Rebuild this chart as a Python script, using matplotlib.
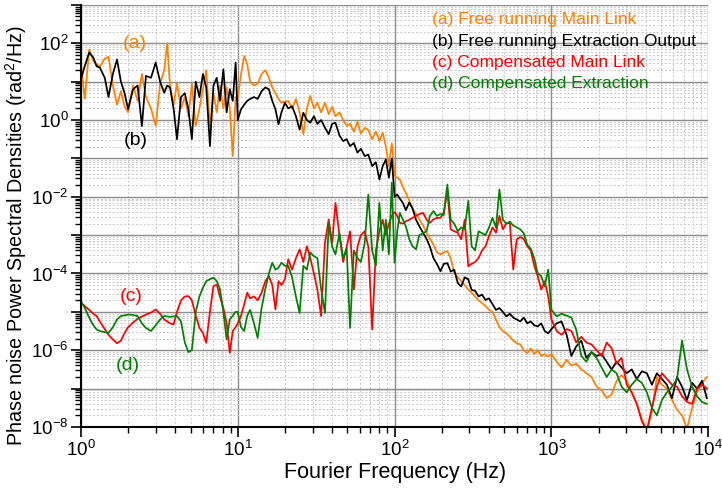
import numpy as np
import matplotlib
matplotlib.use("Agg")
import matplotlib.pyplot as plt
from matplotlib.ticker import LogLocator, FuncFormatter, NullFormatter

plt.rcParams['font.family'] = ['Liberation Sans', 'DejaVu Sans']
plt.rcParams['mathtext.fontset'] = 'custom'
plt.rcParams['mathtext.rm'] = 'Liberation Sans'
plt.rcParams['mathtext.it'] = 'Liberation Sans:italic'

# Fourier frequency grid (Hz)
freq = [1.0, 1.06, 1.13, 1.2, 1.26, 1.32, 1.42, 1.5, 1.6, 1.7, 1.8, 1.9, 2.0, 2.15, 2.3, 2.45, 2.6, 2.8,
        3.0, 3.2, 3.4, 3.55, 3.7, 3.9, 4.1, 4.35, 4.6, 4.85, 5.1, 5.4, 5.7, 6.0, 6.3, 6.65, 7.0, 7.35,
        7.7, 8.1, 8.5, 8.9, 9.3, 9.7,
        10.0, 10.5, 11.0, 11.5, 12.0, 12.7, 13.4, 14.2, 15.0, 15.8, 16.6, 17.4, 18.2, 19.0, 20.0, 21.0,
        22.2, 23.5, 24.8, 26.2, 27.6, 29.0, 30.6, 32.2, 34.0, 36.0, 38.0, 40.0, 42.0, 44.5, 47.0, 49.5,
        52.0, 55.0, 58.0, 61.0, 64.5, 68.0, 72.0, 76.0, 80.0, 84.0, 88.0, 92.0, 96.0,
        100, 104, 108, 113, 118, 124, 130, 137, 144, 152, 160, 168, 177, 186, 196, 206, 217, 228, 240,
        253, 266, 280, 295, 310, 326, 343, 361, 380, 400, 421, 443, 466, 490, 516, 543, 571, 601, 633,
        666, 701, 738, 777, 818, 861, 906, 954,
        1000, 1080, 1160, 1250, 1340, 1440, 1550, 1670, 1800, 1940, 2090, 2250, 2420, 2600, 2800, 3020,
        3250, 3500, 3770, 4060, 4370, 4700, 5060, 5450, 5870, 6320, 6800, 7320, 7880, 8480, 9130, 9800]

# log10 of PSD (rad^2/Hz)
a_free_main = [1.5, 0.55, 1.84, 1.55, 1.45, 1.4, 1.6, 1.65, 0.9, 0.4, 0.75, 0.35, 0.2, 0.9, 0.5, 1.2, 0.6, 0.3,
               -0.15, 0.95, 1.3, 2.0, 0.9, 0.4, 0.95, 0.3, 0.6, 0.1, 0.95, -0.15, 0.3, 0.8, 1.3, -0.15, 0.7, 0.2,
               0.9, 0.3, 0.85, 0.3, -0.94, 0.6,
               0.55, 1.2, 1.67, 1.45, 1.0, 0.9, 0.95, 1.2, 1.3, 1.1, 0.85, 0.7, 0.55, 0.45, 0.48, 0.5,
               0.3, 0.55, 0.2, -0.37, 0.3, 0.63, 0.3, 0.45, 0.2, 0.45, 0.15, 0.35, 0.1, 0.2, 0.0, -0.15,
               -0.1, -0.3, -0.05, -0.35, -0.2, -0.27, -0.5, -0.3, -0.55, -0.33, -0.7, -1.2, -0.6,
               -1.45, -1.5, -1.55, -1.75, -1.9, -2.1, -2.3, -2.45, -2.6, -2.75, -2.94, -3.1, -3.25, -3.45, -3.5,
               -3.45, -3.42, -3.6, -3.98, -4.1, -4.2, -4.3, -4.42, -4.5, -4.6, -4.7, -4.77, -4.85, -4.95, -5.0,
               -5.2, -5.4, -5.5, -5.56, -5.65, -5.75, -5.82, -5.85, -6.0, -6.08, -5.95, -6.1, -6.0, -6.15, -6.1,
               -6.17,
               -6.1, -6.3, -6.45, -6.25, -6.4, -6.35, -6.5, -6.6, -6.7, -6.95, -7.05, -7.25, -7.15, -6.8,
               -6.65, -6.8, -7.1, -7.4, -7.8, -8.1, -7.6, -6.7, -6.9, -7.0, -7.3, -7.55, -7.7, -8.05, -7.5,
               -7.1, -6.85, -6.7]

b_free_extraction = [1.06, 1.41, 1.76, 1.63, 1.4, 1.37, 1.1, 0.6, 1.2, 1.58, 1.0, 0.7, 0.28, 0.8, 0.9, -0.16,
                     1.15, 1.1, 1.5, 1.0, 0.71, 0.9, 0.85, 0.3, -0.5, 0.6, 0.7, 0.28, -0.5, 1.0, 0.6, 1.2, 0.85,
                     -0.68, 0.9, 1.1, 0.5, 1.32, 0.2, 0.8, 0.5, 1.5,
                     0.0, 0.28, 0.4, 0.5, 0.55, 0.6, 0.55, 0.75, 0.85, 0.8, 0.5, 0.28, -0.11, 0.2, 0.45, 0.3,
                     0.36, 0.1, -0.25, 0.19, 0.0, -0.07, 0.1, -0.1, 0.0, -0.2, -0.37, -0.1, -0.07, -0.4, -0.55,
                     -0.5, -0.68, -0.6, -0.85, -0.75, -0.94, -0.9, -1.2, -1.1, -1.55, -1.2, -1.03, -1.5, -1.0,
                     -2.0, -1.94, -2.05, -2.16, -2.35, -2.15, -2.3, -2.6, -2.77, -2.94, -3.1, -3.3, -3.6, -3.75,
                     -3.94, -3.75, -3.73, -3.95, -3.9, -4.25, -4.34, -4.1, -4.15, -4.43, -4.45, -4.6, -4.55,
                     -4.69, -4.65, -4.8, -4.95, -4.9, -5.0, -5.12, -5.05, -5.15, -5.2, -5.25, -5.15, -5.3, -5.25,
                     -5.35, -5.38, -5.3, -5.5, -5.56,
                     -5.45, -5.3, -5.25, -5.6, -6.15, -5.9, -5.75, -6.2, -6.05, -6.15, -6.1, -6.3, -6.5, -6.3,
                     -6.45, -6.6, -6.5, -6.75, -6.55, -6.6, -6.9, -6.6, -6.75, -6.9, -7.25, -6.7, -6.95, -7.3,
                     -6.85, -7.0, -6.8, -7.25]

c_comp_main = [-4.77, -4.85, -4.95, -5.05, -5.11, -5.25, -5.45, -5.6, -5.72, -5.82, -5.75, -5.55, -5.4, -5.28,
               -5.18, -5.12, -5.07, -5.02, -4.94, -5.05, -5.2, -5.25, -5.3, -5.33, -5.0, -4.7, -4.6, -4.59,
               -4.7, -5.1, -5.42, -5.55, -5.81, -5.0, -4.33, -4.29, -4.6, -4.9, -5.3, -6.07, -5.5, -5.4,
               -5.3, -5.1, -4.8, -4.5, -4.65, -4.6, -4.7, -4.5, -4.2, -4.07, -4.3, -4.94, -4.2, -4.3, -4.15,
               -3.63, -3.9, -3.6, -3.37, -3.7, -3.29, -3.6, -4.0, -4.42, -5.11, -3.2, -2.59, -3.2, -2.16,
               -3.0, -3.7, -3.3, -2.9, -4.42, -3.3, -3.0, -2.9, -3.3, -5.46, -3.4, -2.9, -2.6, -3.0, -2.7,
               -2.5,
               -2.4, -2.5, -2.68, -2.7, -2.64, -2.6, -2.55, -2.5, -2.45, -2.42, -2.6, -2.68, -2.59, -2.55,
               -2.55, -2.4, -1.85, -2.85, -2.9, -2.94, -3.11, -2.6, -3.81, -3.75, -3.7, -3.6, -3.4, -3.29,
               -3.03, -2.8, -2.94, -2.5, -2.85, -2.7, -2.68, -3.9, -3.11, -3.05, -3.1, -3.29, -3.4, -3.8,
               -4.07, -4.42, -4.2, -4.6,
               -5.2, -5.5, -5.6, -5.45, -5.5, -5.8, -5.65, -5.8, -5.85, -6.0, -6.15, -5.8, -5.95, -6.35,
               -6.2, -6.9, -7.1, -7.4, -7.85, -8.1, -7.5, -6.95, -6.6, -6.75, -6.9, -6.95, -7.2, -7.35,
               -7.4, -7.0, -6.9, -7.0]

d_comp_extraction = [-4.72, -4.9, -5.15, -5.35, -5.46, -5.5, -5.53, -5.55, -5.4, -5.2, -5.11, -5.09, -5.07,
                     -5.08, -5.11, -5.3, -5.42, -5.5, -5.35, -5.2, -5.11, -5.12, -5.13, -5.12, -5.11, -5.25,
                     -5.8, -6.05, -6.0, -5.0, -4.6, -4.37, -4.2, -4.15, -4.11, -4.2, -4.4, -5.0, -5.72, -5.2,
                     -5.1, -5.0,
                     -5.0, -5.4, -5.5, -5.1, -4.95, -5.3, -5.68, -4.9, -4.4, -4.0, -3.72, -3.9, -3.85, -3.72,
                     -3.8, -3.8, -4.1, -4.6, -5.03, -3.8, -3.9, -3.45, -3.55, -3.6, -4.4, -5.03, -2.7, -3.3,
                     -3.5, -2.95, -3.6, -3.35, -5.42, -3.4, -3.6, -3.7, -3.2, -1.94, -3.4, -3.8, -2.16, -3.4,
                     -2.6, -3.5, -1.63,
                     -3.72, -2.9, -2.42, -2.6, -2.77, -3.1, -3.29, -3.37, -3.0, -2.95, -2.9, -2.5, -2.37, -2.5,
                     -2.45, -2.48, -1.68, -2.6, -2.7, -2.9, -2.8, -2.85, -2.11, -3.29, -3.4, -2.9, -2.95, -3.0,
                     -2.8, -2.55, -2.8, -1.81, -2.6, -2.7, -2.65, -2.75, -2.8, -2.85, -2.95, -3.25, -3.35,
                     -3.6, -4.0, -4.07, -4.33, -3.9,
                     -4.95, -5.12, -5.05, -5.1, -5.15, -5.47, -6.15, -6.3, -6.05, -6.2, -6.45, -6.7, -6.5,
                     -6.6, -6.95, -7.1, -6.9, -6.75, -6.85, -7.1, -7.5, -7.7, -7.3, -7.1, -6.95, -6.75, -5.75,
                     -6.5, -6.95, -7.2, -7.35, -7.4]

series_labels = ["(a) Free running Main Link", "(b) Free running Extraction Output",
                 "(c) Compensated Main Link", "(d) Compensated Extraction"]
series_colors = ["#FF8000", "#000000", "#FF0000", "#008000"]

fig = plt.figure(figsize=(7.22, 4.93), dpi=100)
ax = fig.add_axes([0.112, 0.134, 0.869, 0.856])

f = np.array(freq)
all_series = [a_free_main, b_free_extraction, c_comp_main, d_comp_extraction]
for vals, col, lab in zip(all_series, series_colors, series_labels):
    ax.plot(f, 10 ** np.array(vals), color=col, lw=1.25, label=lab)

ax.set_xscale('log')
ax.set_yscale('log')
ax.set_xlim(1, 1e4)
ax.set_ylim(1e-8, 1e3)

ax.xaxis.set_major_locator(LogLocator(base=10, numticks=10))
ax.xaxis.set_minor_locator(LogLocator(base=10, subs=np.arange(2, 10), numticks=10))
ax.yaxis.set_major_locator(LogLocator(base=10, numticks=20))
ax.yaxis.set_minor_locator(LogLocator(base=10, subs=np.arange(2, 10), numticks=20))
ax.xaxis.set_minor_formatter(NullFormatter())
ax.yaxis.set_minor_formatter(NullFormatter())


def yfmt(v, pos):
    e = int(round(np.log10(v)))
    if e % 2 == 0 and -8 <= e <= 2:
        return r'$\mathdefault{10^{%d}}$' % e
    return ''


def xfmt(v, pos):
    e = int(round(np.log10(v)))
    return r'$\mathdefault{10^{%d}}$' % e


ax.yaxis.set_major_formatter(FuncFormatter(yfmt))
ax.xaxis.set_major_formatter(FuncFormatter(xfmt))

ax.grid(which='major', color='#8c8c8c', lw=1.0, ls='-')
ax.grid(which='minor', color='#c8c8c8', lw=0.7, ls=(0, (2, 2)))
ax.set_axisbelow(True)

for s in ['top', 'right']:
    ax.spines[s].set_visible(False)
for s in ['left', 'bottom']:
    ax.spines[s].set_linewidth(1.5)

ax.tick_params(which='major', direction='out', length=7, width=1.2, labelsize=13.5, pad=2)
ax.tick_params(which='minor', direction='out', length=4, width=1.0)

ax.set_xlabel("Fourier Frequency (Hz)", fontsize=15.5, labelpad=2)
ax.set_ylabel("Phase noise Power Spectral Densities (rad$^2$/Hz)", fontsize=14.2)
ax.yaxis.set_label_coords(-0.083, 0.453)

leg = ax.legend(loc='upper left', bbox_to_anchor=(0.534, 1.02), frameon=False, handlelength=0,
                handletextpad=0, labelspacing=0.36, fontsize=12.5, labelcolor='linecolor')
for h in leg.legend_handles:
    h.set_visible(False)

ax.text(2.2, 100, "(a)", color="#FF8000", fontsize=14, ha='center', va='center')
ax.text(2.25, 0.3, "(b)", color="#000000", fontsize=14, ha='center', va='center')
ax.text(2.1, 2.5e-5, "(c)", color="#FF0000", fontsize=14, ha='center', va='center')
ax.text(2.0, 4e-7, "(d)", color="#008000", fontsize=14, ha='center', va='center')

fig.savefig("out.png", dpi=100)
